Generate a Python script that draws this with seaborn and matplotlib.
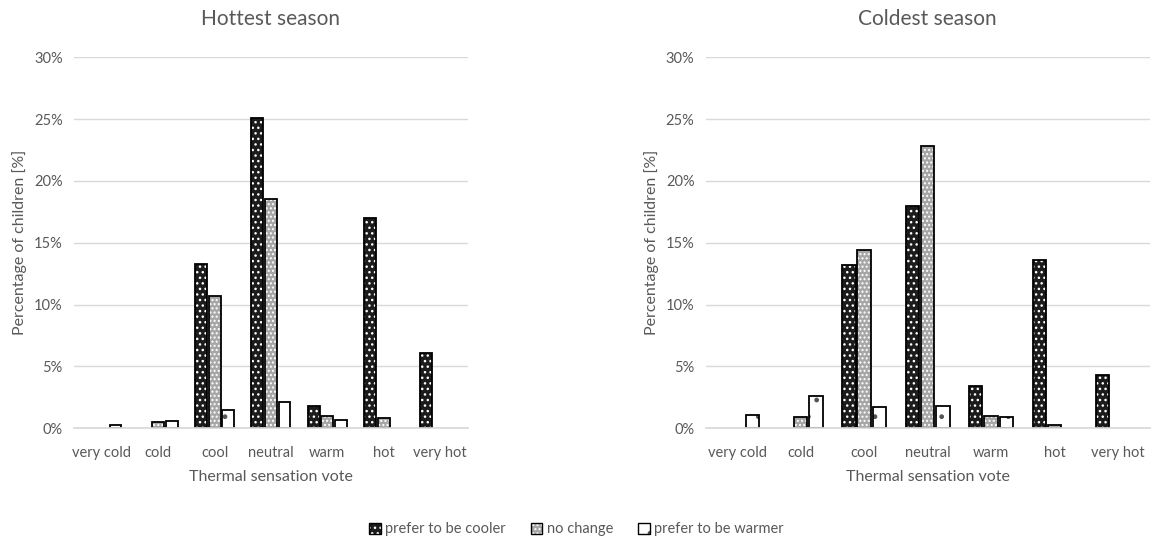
import numpy as np
import pandas as pd
import matplotlib
matplotlib.use("Agg")
import matplotlib.pyplot as plt
from matplotlib.patches import Patch
from matplotlib.ticker import PercentFormatter
import seaborn as sns

categories = ["very cold", "cold", "cool", "neutral", "warm", "hot", "very hot"]
series = ["prefer to be cooler", "no change", "prefer to be warmer"]

hot_cooler = [0.0, 0.0, 13.3, 25.1, 1.8, 17.0, 6.1]
hot_nochange = [0.0, 0.5, 10.7, 18.5, 1.0, 0.8, 0.0]
hot_warmer = [0.3, 0.6, 1.5, 2.1, 0.7, 0.0, 0.0]

cold_cooler = [0.0, 0.0, 13.2, 18.0, 3.4, 13.6, 4.3]
cold_nochange = [0.0, 0.9, 14.4, 22.8, 1.0, 0.3, 0.0]
cold_warmer = [1.1, 2.6, 1.7, 1.8, 0.9, 0.0, 0.0]

titles = ["Hottest season", "Coldest season"]

sns.set_theme(style="white")
plt.rcParams["font.family"] = ["Lato", "DejaVu Sans"]

TXT = "#595959"
faces = ["#1c1c1c", "#a6a6a6", "#ffffff"]
hatches = ["...", "....", "."]
hatch_cols = ["#ffffff", "#ffffff", "#555555"]


def make_df(a, b, c):
    rows = []
    for s, vals in zip(series, [a, b, c]):
        for cat, v in zip(categories, vals):
            rows.append({"vote": cat, "pref": s, "pct": v})
    return pd.DataFrame(rows)


fig = plt.figure(figsize=(11.53, 5.40), dpi=100)
ax1 = fig.add_axes([0.064, 0.207, 0.342, 0.687])
ax2 = fig.add_axes([0.612, 0.207, 0.385, 0.687])

data = [make_df(hot_cooler, hot_nochange, hot_warmer),
        make_df(cold_cooler, cold_nochange, cold_warmer)]

plt.rcParams["hatch.linewidth"] = 1.0

for ax, df, title in zip([ax1, ax2], data, titles):
    sns.barplot(data=df, x="vote", y="pct", hue="pref", order=categories,
                hue_order=series, palette=faces, width=0.72, gap=0.12,
                ax=ax, legend=False, errorbar=None, saturation=1)
    for i, cont in enumerate(ax.containers):
        for p in cont:
            if p.get_height() <= 0:
                p.set_visible(False)
                continue
            p.set_facecolor(faces[i])
            p.set_edgecolor("#000000")
            p.set_linewidth(1.3)
            p.set_hatch(hatches[i])
            p._hatch_color = matplotlib.colors.to_rgba(hatch_cols[i])
    ax.set_ylim(0, 30)
    ax.set_yticks([0, 5, 10, 15, 20, 25, 30])
    ax.yaxis.set_major_formatter(PercentFormatter(decimals=0))
    ax.set_xlim(-0.5, 6.5)
    ax.grid(axis="y", color="#d9d9d9", linewidth=1)
    ax.set_axisbelow(True)
    for s in ["top", "right", "left"]:
        ax.spines[s].set_visible(False)
    ax.spines["bottom"].set_color("#d9d9d9")
    ax.tick_params(axis="y", length=0, colors=TXT, labelsize=10.5, pad=8)
    ax.tick_params(axis="x", length=0, colors=TXT, labelsize=10.5, pad=13)
    ax.set_xlabel("Thermal sensation vote", color=TXT, fontsize=11.5, labelpad=7)
    ax.set_ylabel("Percentage of children [%]", color=TXT, fontsize=11.5, labelpad=5)
    ax.set_title(title, color=TXT, fontsize=15, pad=23)

handles = [Patch(facecolor=faces[i], edgecolor="black", hatch=hatches[i], label=series[i])
           for i in range(3)]
leg = fig.legend(handles=handles, loc="center", bbox_to_anchor=(0.5, 0.02), ncol=3,
                 frameon=False, fontsize=10.5, handlelength=0.8, handleheight=0.8,
                 handletextpad=0.3, columnspacing=1.7, labelcolor=TXT)
for h, col in zip(leg.legend_handles, hatch_cols):
    h._hatch_color = matplotlib.colors.to_rgba(col)

fig.savefig("out.png", dpi=100)
